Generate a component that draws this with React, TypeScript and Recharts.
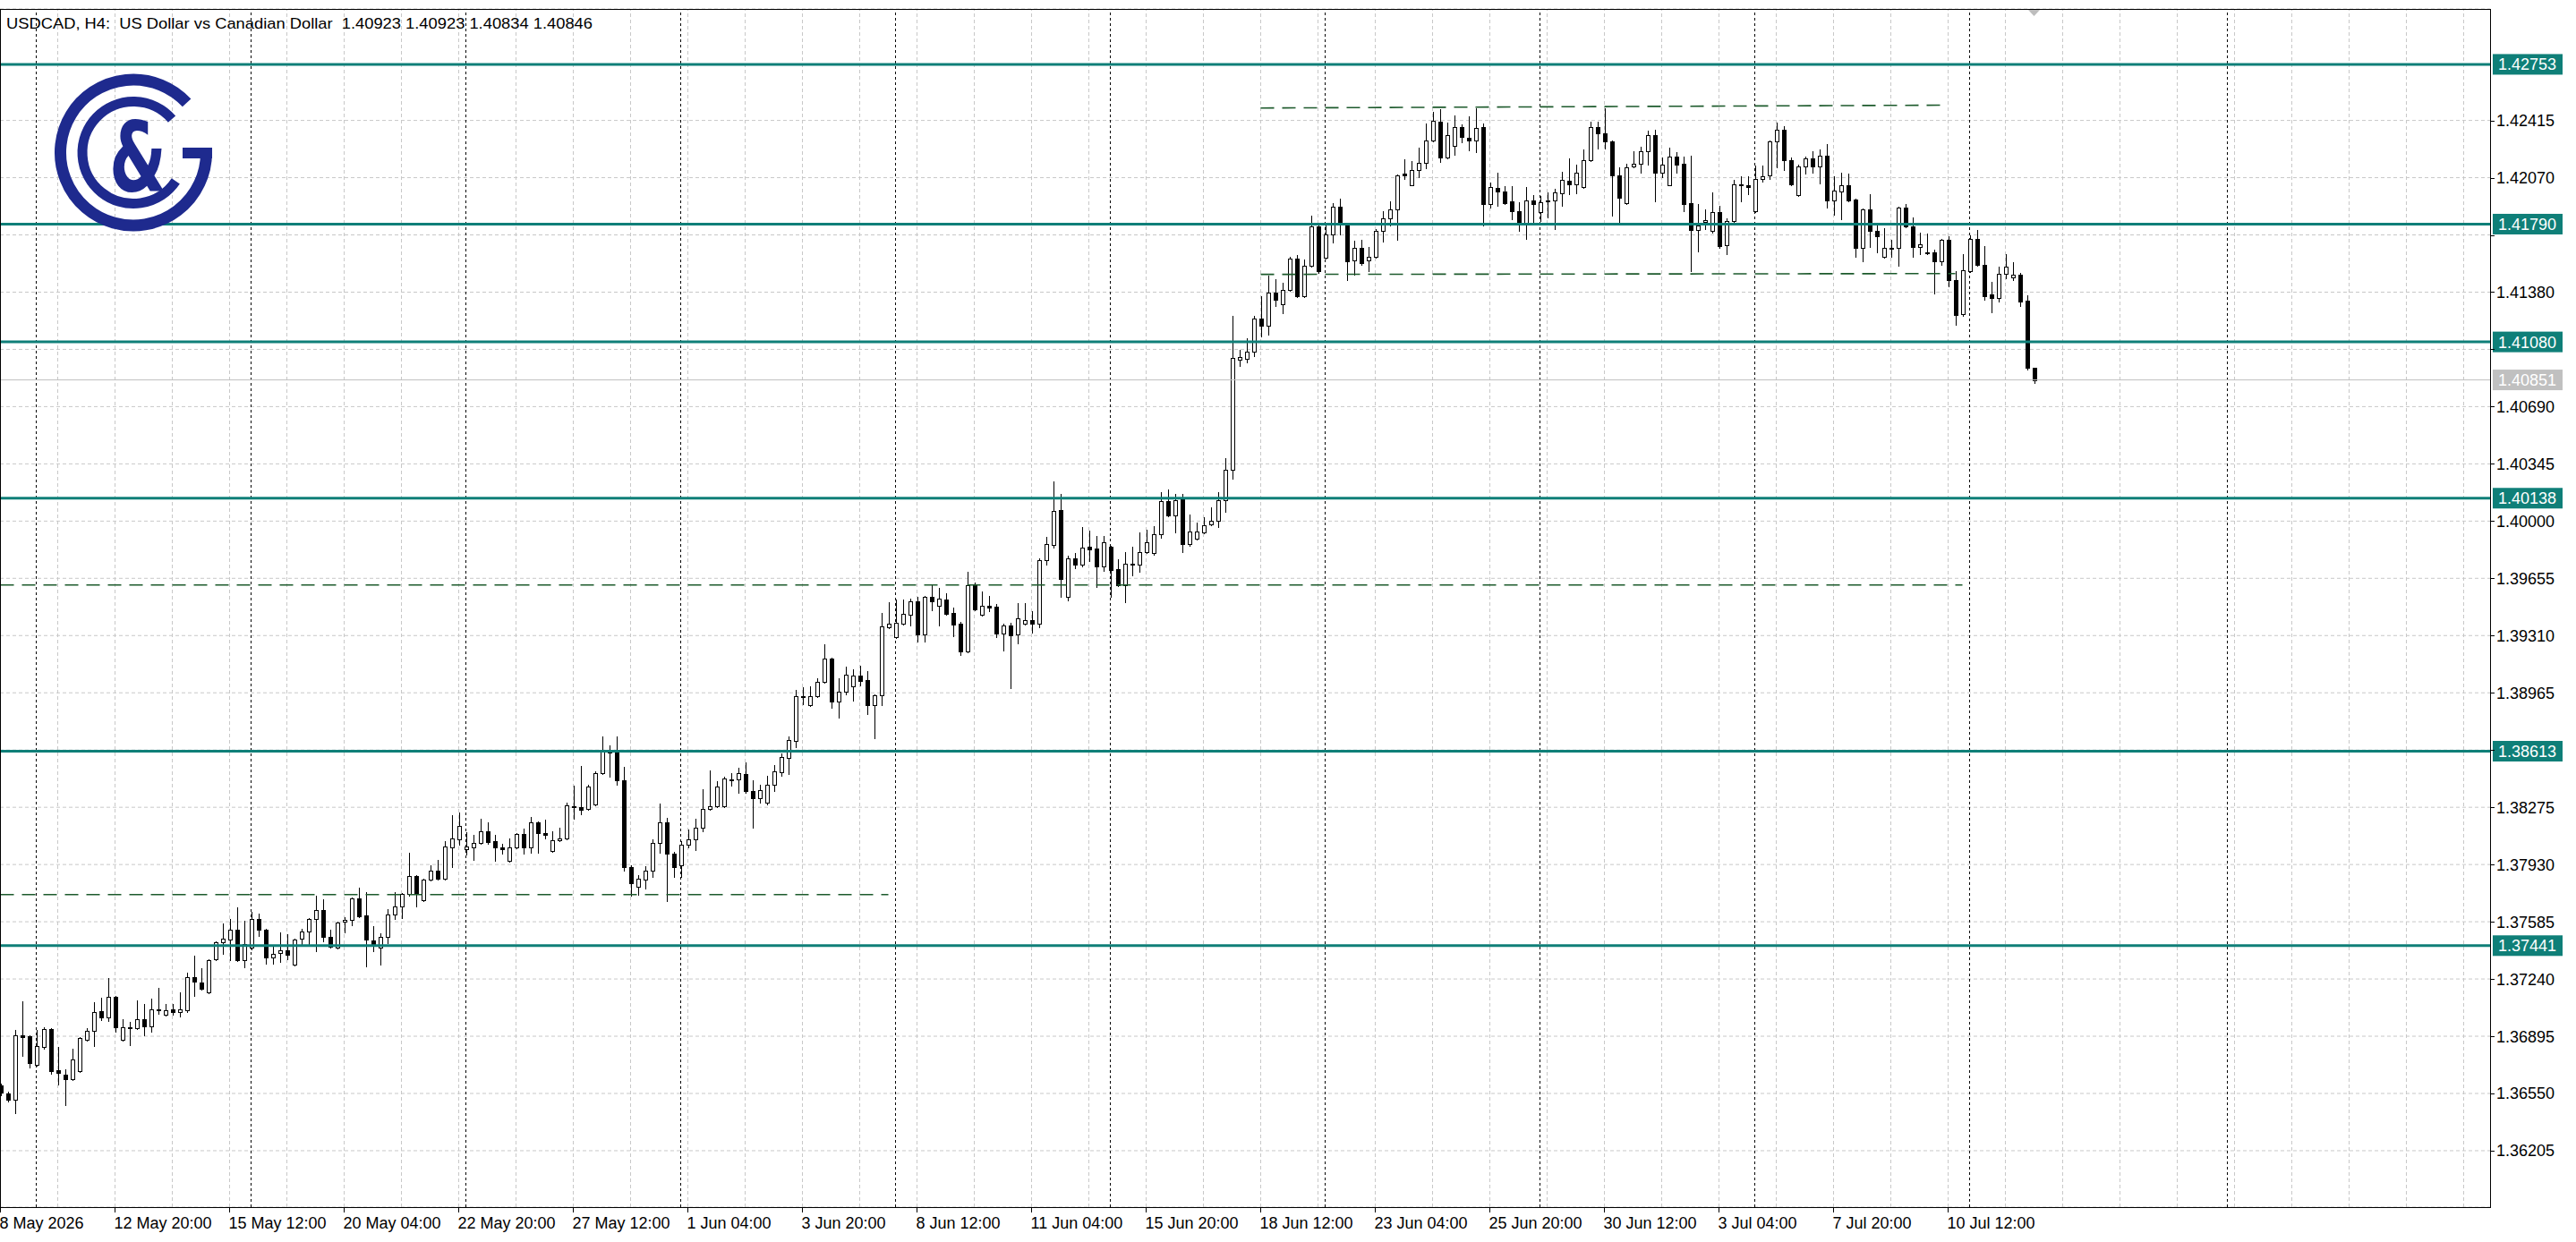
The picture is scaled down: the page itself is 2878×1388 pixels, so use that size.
import React from 'react';
import { ComposedChart, Bar, XAxis, YAxis, CartesianGrid, ReferenceLine } from 'recharts';

// USDCAD H4 candles, 8 May 2026 04:00 .. 14 Jul 2026 12:00
const opens = [
  1.36600, 1.36551, 1.36514, 1.36902, 1.36896, 1.36724, 1.36832, 1.36940, 1.36692, 1.36665,
  1.36638, 1.36686, 1.36875, 1.36929, 1.37048, 1.37010, 1.37134, 1.36875, 1.36946, 1.36945,
  1.36999, 1.36956, 1.37059, 1.37026, 1.37059, 1.37042, 1.37053, 1.37253, 1.37220, 1.37161,
  1.37361, 1.37463, 1.37479, 1.37539, 1.37355, 1.37431, 1.37604, 1.37539, 1.37372, 1.37399,
  1.37415, 1.37329, 1.37485, 1.37528, 1.37604, 1.37658, 1.37496, 1.37431, 1.37588, 1.37599,
  1.37728, 1.37626, 1.37474, 1.37431, 1.37496, 1.37631, 1.37679, 1.37754, 1.37862, 1.37717,
  1.37840, 1.37894, 1.37846, 1.38035, 1.38083, 1.38024, 1.38035, 1.38062, 1.38132, 1.38072,
  1.38035, 1.37954, 1.38035, 1.38116, 1.38035, 1.38186, 1.38121, 1.38013, 1.38078, 1.38089,
  1.38283, 1.38277, 1.38267, 1.38294, 1.38483, 1.38612, 1.38612, 1.38440, 1.37916, 1.37798,
  1.37840, 1.37894, 1.38062, 1.38186, 1.37997, 1.37927, 1.38051, 1.38083, 1.38153, 1.38267,
  1.38283, 1.38283, 1.38445, 1.38445, 1.38477, 1.38375, 1.38332, 1.38305, 1.38413, 1.38488,
  1.38574, 1.38677, 1.38947, 1.38893, 1.38947, 1.39033, 1.39173, 1.38914, 1.38974, 1.39006,
  1.39071, 1.39044, 1.38893, 1.38952, 1.39362, 1.39302, 1.39384, 1.39437, 1.39518, 1.39319,
  1.39545, 1.39491, 1.39529, 1.39448, 1.39384, 1.39216, 1.39615, 1.39437, 1.39491, 1.39486,
  1.39324, 1.39373, 1.39319, 1.39384, 1.39405, 1.39384, 1.39766, 1.39858, 1.40069, 1.39545,
  1.39777, 1.39739, 1.39847, 1.39836, 1.39728, 1.39847, 1.39712, 1.39615, 1.39740, 1.39739,
  1.39815, 1.39809, 1.39923, 1.40123, 1.40036, 1.40139, 1.39863, 1.39896, 1.39934, 1.39982,
  1.40004, 1.40128, 1.40311, 1.40975, 1.40980, 1.41023, 1.41223, 1.41180, 1.41379, 1.41309,
  1.41395, 1.41584, 1.41358, 1.41541, 1.41778, 1.41589, 1.41730, 1.41897, 1.41789, 1.41573,
  1.41649, 1.41573, 1.41595, 1.41752, 1.41827, 1.41881, 1.42096, 1.42027, 1.42118, 1.42161,
  1.42296, 1.42410, 1.42194, 1.42264, 1.42377, 1.42312, 1.42296, 1.42377, 1.41913, 1.42010,
  1.41989, 1.41929, 1.41870, 1.41789, 1.41935, 1.41865, 1.41935, 1.41935, 1.41978, 1.42054,
  1.42032, 1.42016, 1.42178, 1.42377, 1.42339, 1.42291, 1.42086, 1.41919, 1.42140, 1.42156,
  1.42231, 1.42329, 1.42102, 1.42027, 1.42199, 1.42156, 1.41919, 1.41757, 1.41805, 1.41751,
  1.41865, 1.41665, 1.41811, 1.42032, 1.42027, 1.41870, 1.42064, 1.42086, 1.42291, 1.42361,
  1.42178, 1.41967, 1.42140, 1.42188, 1.42140, 1.42204, 1.41935, 1.41989, 1.42027, 1.41940,
  1.41649, 1.41881, 1.41751, 1.41595, 1.41644, 1.41649, 1.41892, 1.41778, 1.41654, 1.41622,
  1.41622, 1.41568, 1.41697, 1.41455, 1.41250, 1.41509, 1.41703, 1.41546, 1.41369, 1.41347,
  1.41493, 1.41471, 1.41487, 1.41331, 1.40923,
];

const highs = [
  1.36611, 1.36562, 1.36934, 1.37107, 1.36902, 1.36934, 1.36951, 1.36945, 1.36832, 1.36697,
  1.36821, 1.36891, 1.36945, 1.37102, 1.37129, 1.37247, 1.37140, 1.36999, 1.36983, 1.37113,
  1.37091, 1.37123, 1.37188, 1.37091, 1.37091, 1.37161, 1.37280, 1.37382, 1.37307, 1.37360,
  1.37469, 1.37577, 1.37604, 1.37674, 1.37593, 1.37647, 1.37636, 1.37545, 1.37442, 1.37523,
  1.37512, 1.37485, 1.37545, 1.37609, 1.37744, 1.37722, 1.37539, 1.37588, 1.37615, 1.37733,
  1.37792, 1.37765, 1.37561, 1.37517, 1.37663, 1.37765, 1.37760, 1.38002, 1.37867, 1.37846,
  1.37927, 1.37959, 1.38072, 1.38229, 1.38245, 1.38127, 1.38110, 1.38208, 1.38186, 1.38110,
  1.38056, 1.38089, 1.38121, 1.38148, 1.38218, 1.38191, 1.38202, 1.38132, 1.38153, 1.38304,
  1.38407, 1.38526, 1.38412, 1.38494, 1.38704, 1.38650, 1.38704, 1.38520, 1.37927, 1.37868,
  1.37922, 1.38083, 1.38299, 1.38213, 1.38008, 1.38072, 1.38143, 1.38208, 1.38386, 1.38499,
  1.38434, 1.38461, 1.38483, 1.38515, 1.38547, 1.38440, 1.38413, 1.38466, 1.38531, 1.38601,
  1.38704, 1.38984, 1.39000, 1.39005, 1.39055, 1.39259, 1.39179, 1.39055, 1.39125, 1.39109,
  1.39130, 1.39098, 1.38958, 1.39448, 1.39513, 1.39529, 1.39529, 1.39535, 1.39545, 1.39550,
  1.39615, 1.39599, 1.39567, 1.39480, 1.39394, 1.39696, 1.39631, 1.39578, 1.39551, 1.39502,
  1.39384, 1.39389, 1.39508, 1.39508, 1.39459, 1.39777, 1.39907, 1.40241, 1.40166, 1.39793,
  1.39809, 1.39966, 1.39944, 1.39912, 1.39912, 1.39853, 1.39772, 1.39815, 1.39847, 1.39934,
  1.39950, 1.39971, 1.40176, 1.40193, 1.40166, 1.40166, 1.40041, 1.39993, 1.40022, 1.40085,
  1.40176, 1.40381, 1.41239, 1.41034, 1.41104, 1.41239, 1.41358, 1.41482, 1.41460, 1.41439,
  1.41595, 1.41606, 1.41579, 1.41843, 1.41789, 1.41789, 1.41919, 1.41946, 1.41795, 1.41692,
  1.41698, 1.41654, 1.41762, 1.41870, 1.41929, 1.42091, 1.42183, 1.42172, 1.42253, 1.42399,
  1.42469, 1.42485, 1.42404, 1.42447, 1.42393, 1.42442, 1.42490, 1.42399, 1.42043, 1.42102,
  1.42021, 1.42021, 1.41924, 1.42016, 1.41967, 1.41962, 1.41983, 1.42005, 1.42107, 1.42188,
  1.42150, 1.42242, 1.42409, 1.42409, 1.42490, 1.42296, 1.42134, 1.42156, 1.42231, 1.42258,
  1.42356, 1.42361, 1.42194, 1.42253, 1.42226, 1.42199, 1.42204, 1.41913, 1.41881, 1.41983,
  1.41902, 1.41827, 1.42059, 1.42081, 1.42081, 1.42145, 1.42145, 1.42296, 1.42404, 1.42383,
  1.42194, 1.42150, 1.42199, 1.42231, 1.42242, 1.42275, 1.42081, 1.42102, 1.42097, 1.41946,
  1.41886, 1.41973, 1.41795, 1.41768, 1.41697, 1.41897, 1.41913, 1.41832, 1.41741, 1.41735,
  1.41638, 1.41703, 1.41719, 1.41509, 1.41611, 1.41724, 1.41757, 1.41660, 1.41444, 1.41536,
  1.41611, 1.41563, 1.41498, 1.41363, 1.40923,
];

const lows = [
  1.36541, 1.36503, 1.36433, 1.36778, 1.36708, 1.36719, 1.36821, 1.36670, 1.36605, 1.36481,
  1.36632, 1.36680, 1.36869, 1.36837, 1.36994, 1.36988, 1.36923, 1.36870, 1.36843, 1.36940,
  1.36902, 1.36923, 1.37032, 1.37021, 1.37026, 1.37016, 1.37042, 1.37140, 1.37177, 1.37156,
  1.37355, 1.37393, 1.37355, 1.37350, 1.37312, 1.37420, 1.37501, 1.37334, 1.37334, 1.37345,
  1.37361, 1.37323, 1.37452, 1.37452, 1.37409, 1.37469, 1.37431, 1.37425, 1.37523, 1.37566,
  1.37615, 1.37318, 1.37409, 1.37329, 1.37458, 1.37604, 1.37609, 1.37744, 1.37679, 1.37712,
  1.37835, 1.37840, 1.37840, 1.37916, 1.38051, 1.37992, 1.37959, 1.38056, 1.38056, 1.37954,
  1.37997, 1.37949, 1.38030, 1.37997, 1.38002, 1.38002, 1.38089, 1.38008, 1.38072, 1.38083,
  1.38208, 1.38234, 1.38261, 1.38288, 1.38478, 1.38461, 1.38413, 1.37895, 1.37744, 1.37749,
  1.37787, 1.37857, 1.38002, 1.37712, 1.37857, 1.37857, 1.38035, 1.38019, 1.38132, 1.38261,
  1.38277, 1.38277, 1.38407, 1.38364, 1.38364, 1.38153, 1.38305, 1.38294, 1.38375, 1.38466,
  1.38477, 1.38639, 1.38898, 1.38888, 1.38941, 1.39028, 1.38876, 1.38817, 1.38958, 1.38919,
  1.39011, 1.38839, 1.38689, 1.38893, 1.39357, 1.39297, 1.39378, 1.39373, 1.39276, 1.39276,
  1.39464, 1.39373, 1.39437, 1.39308, 1.39195, 1.39211, 1.39464, 1.39432, 1.39459, 1.39302,
  1.39222, 1.38995, 1.39265, 1.39378, 1.39330, 1.39362, 1.39739, 1.39842, 1.39545, 1.39524,
  1.39718, 1.39728, 1.39761, 1.39604, 1.39702, 1.39545, 1.39610, 1.39513, 1.39675, 1.39696,
  1.39809, 1.39799, 1.39901, 1.40031, 1.39934, 1.39815, 1.39853, 1.39890, 1.39928, 1.39977,
  1.39966, 1.40058, 1.40257, 1.40937, 1.40959, 1.40996, 1.41115, 1.41126, 1.41298, 1.41255,
  1.41390, 1.41352, 1.41352, 1.41536, 1.41498, 1.41584, 1.41681, 1.41730, 1.41455, 1.41487,
  1.41546, 1.41509, 1.41589, 1.41687, 1.41784, 1.41697, 1.42064, 1.42022, 1.42075, 1.42129,
  1.42291, 1.42167, 1.42188, 1.42210, 1.42285, 1.42237, 1.42226, 1.41784, 1.41892, 1.41902,
  1.41913, 1.41822, 1.41751, 1.41703, 1.41805, 1.41811, 1.41832, 1.41762, 1.41902, 1.41973,
  1.41978, 1.42010, 1.42172, 1.42248, 1.42248, 1.41843, 1.41805, 1.41913, 1.42134, 1.42102,
  1.42150, 1.41929, 1.42075, 1.42022, 1.42102, 1.41870, 1.41509, 1.41627, 1.41762, 1.41741,
  1.41649, 1.41611, 1.41805, 1.41929, 1.41973, 1.41865, 1.42048, 1.42064, 1.42134, 1.42118,
  1.42027, 1.41962, 1.42097, 1.42102, 1.42037, 1.41892, 1.41849, 1.41822, 1.41929, 1.41595,
  1.41568, 1.41654, 1.41622, 1.41589, 1.41595, 1.41541, 1.41773, 1.41595, 1.41611, 1.41611,
  1.41374, 1.41546, 1.41417, 1.41185, 1.41239, 1.41503, 1.41541, 1.41336, 1.41261, 1.41325,
  1.41466, 1.41455, 1.41298, 1.40915, 1.40834,
];

const closes = [
  1.36557, 1.36514, 1.36902, 1.36891, 1.36735, 1.36837, 1.36940, 1.36686, 1.36676, 1.36638,
  1.36757, 1.36886, 1.36929, 1.37042, 1.37010, 1.37134, 1.36951, 1.36951, 1.36951, 1.36999,
  1.36956, 1.37059, 1.37053, 1.37053, 1.37042, 1.37059, 1.37253, 1.37226, 1.37183, 1.37355,
  1.37463, 1.37485, 1.37539, 1.37355, 1.37452, 1.37604, 1.37539, 1.37372, 1.37393, 1.37415,
  1.37388, 1.37479, 1.37528, 1.37604, 1.37658, 1.37496, 1.37436, 1.37582, 1.37599, 1.37728,
  1.37620, 1.37479, 1.37452, 1.37496, 1.37631, 1.37679, 1.37754, 1.37862, 1.37760, 1.37840,
  1.37894, 1.37846, 1.38040, 1.38089, 1.38164, 1.38040, 1.38062, 1.38132, 1.38067, 1.38035,
  1.38024, 1.38035, 1.38116, 1.38035, 1.38186, 1.38121, 1.38110, 1.38078, 1.38089, 1.38288,
  1.38277, 1.38261, 1.38402, 1.38483, 1.38612, 1.38607, 1.38440, 1.37916, 1.37819, 1.37846,
  1.37894, 1.38062, 1.38186, 1.37997, 1.37916, 1.38051, 1.38083, 1.38153, 1.38267, 1.38283,
  1.38402, 1.38450, 1.38440, 1.38483, 1.38375, 1.38332, 1.38380, 1.38413, 1.38494, 1.38580,
  1.38682, 1.38947, 1.38941, 1.38947, 1.39033, 1.39173, 1.38914, 1.38974, 1.39076, 1.39071,
  1.39038, 1.38893, 1.38952, 1.39367, 1.39384, 1.39389, 1.39443, 1.39518, 1.39319, 1.39545,
  1.39518, 1.39535, 1.39443, 1.39378, 1.39216, 1.39615, 1.39470, 1.39491, 1.39480, 1.39324,
  1.39373, 1.39313, 1.39416, 1.39405, 1.39384, 1.39766, 1.39863, 1.40063, 1.39653, 1.39777,
  1.39739, 1.39842, 1.39831, 1.39728, 1.39874, 1.39707, 1.39615, 1.39745, 1.39745, 1.39815,
  1.39874, 1.39923, 1.40123, 1.40036, 1.40128, 1.39863, 1.39939, 1.39939, 1.39977, 1.40004,
  1.40128, 1.40311, 1.40985, 1.40990, 1.41023, 1.41223, 1.41180, 1.41379, 1.41336, 1.41395,
  1.41584, 1.41358, 1.41541, 1.41778, 1.41509, 1.41730, 1.41897, 1.41800, 1.41568, 1.41649,
  1.41557, 1.41595, 1.41752, 1.41827, 1.41881, 1.42086, 1.42086, 1.42118, 1.42161, 1.42296,
  1.42415, 1.42194, 1.42329, 1.42377, 1.42318, 1.42296, 1.42372, 1.41913, 1.42016, 1.41989,
  1.41919, 1.41870, 1.41795, 1.41935, 1.41913, 1.41924, 1.41929, 1.41983, 1.42059, 1.42032,
  1.42102, 1.42178, 1.42377, 1.42339, 1.42291, 1.42086, 1.41951, 1.42134, 1.42156, 1.42231,
  1.42329, 1.42102, 1.42150, 1.42199, 1.42150, 1.41913, 1.41757, 1.41784, 1.41816, 1.41865,
  1.41660, 1.41811, 1.42032, 1.42027, 1.42016, 1.42064, 1.42081, 1.42291, 1.42361, 1.42178,
  1.42032, 1.42140, 1.42188, 1.42140, 1.42204, 1.41935, 1.41994, 1.42027, 1.41935, 1.41649,
  1.41881, 1.41751, 1.41719, 1.41649, 1.41649, 1.41892, 1.41778, 1.41654, 1.41670, 1.41617,
  1.41568, 1.41697, 1.41455, 1.41245, 1.41514, 1.41703, 1.41546, 1.41358, 1.41347, 1.41493,
  1.41536, 1.41487, 1.41325, 1.40926, 1.40846,
];

// one label every 16 bars, starting with the first bar
const timeLabels = [
  '8 May 2026', '12 May 20:00', '15 May 12:00', '20 May 04:00', '22 May 20:00', '27 May 12:00',
  '1 Jun 04:00', '3 Jun 20:00', '8 Jun 12:00', '11 Jun 04:00', '15 Jun 20:00', '18 Jun 12:00',
  '23 Jun 04:00', '25 Jun 20:00', '30 Jun 12:00', '3 Jul 04:00', '7 Jul 20:00', '10 Jul 12:00',
];

const priceTicks = [
  1.36205, 1.3655, 1.36895, 1.3724, 1.37585, 1.3793, 1.38275, 1.3862, 1.38965, 1.3931,
  1.39655, 1.4, 1.40345, 1.4069, 1.41035, 1.4138, 1.41725, 1.4207, 1.42415,
];
// tick labels hidden behind the level tags
const coveredTicks = [1.3862, 1.41035, 1.41725];

const levels = [1.42753, 1.4179, 1.4108, 1.40138, 1.38613, 1.37441];
const bidPrice = 1.40851;
const headerText = 'USDCAD, H4:  US Dollar vs Canadian Dollar  1.40923 1.40923 1.40834 1.40846';

// bar indices of the weekly separators (Monday 00:00)
const weekStarts = [5, 35, 65, 95, 125, 155, 185, 215, 245, 275, 311];

// dashed support / resistance lines drawn on the chart
const trendLines = [
  { x1: 0, p1: 1.37749, x2: 124, p2: 1.37749 },
  { x1: 0, p1: 1.39615, x2: 274, p2: 1.39615 },
  { x1: 176, p1: 1.4249, x2: 271, p2: 1.42507 },
  { x1: 176, p1: 1.41487, x2: 273, p2: 1.41492 },
];

const SLOTS = 348;
const BAR_COUNT = Math.min(opens.length, highs.length, lows.length, closes.length);
const gridIdx = Array.from({ length: 43 }, (_, k) => (k + 1) * 8);

const data = Array.from({ length: SLOTS }, (_, i) =>
  i < BAR_COUNT
    ? { idx: i, o: opens[i], h: highs[i], l: lows[i], c: closes[i], range: [lows[i], highs[i]] }
    : { idx: i, range: null }
);

const TEAL = '#0f7f78';
const TREND = '#1d5a2c';
const LOGO = '#1e2a8e';
const FONT = '"Liberation Sans", Arial, sans-serif';

const Candle = (props: any) => {
  const { x, y, width, height, payload } = props;
  if (!payload || payload.o == null || !isFinite(y) || !isFinite(height)) return <g />;
  const { o, h, l, c } = payload;
  const top = Math.min(y, y + height);
  const bottom = Math.max(y, y + height);
  const k = (bottom - top) / (h - l);
  const py = (p: number) => Math.round(top + (h - p) * k);
  const cx = Math.round(x + width / 2 - 0.5) + 0.5;
  const yH = py(h);
  const yL = py(l);
  const bt = Math.min(py(o), py(c));
  const bb = Math.max(py(o), py(c));
  const bull = c >= o;
  return (
    <g>
      <line x1={cx} x2={cx} y1={yH} y2={yL + 1} stroke="#000" strokeWidth={1} />
      {bb - bt < 1 ? (
        <line x1={cx - 2.5} x2={cx + 2.5} y1={bt + 0.5} y2={bt + 0.5} stroke="#000" strokeWidth={1} />
      ) : (
        <rect x={cx - 2} y={bt + 0.5} width={4} height={bb - bt} fill={bull ? '#fff' : '#000'} stroke="#000" strokeWidth={1} />
      )}
    </g>
  );
};

const TimeTick = (props: any) => {
  const { x, y, payload } = props;
  const i = payload.value;
  const label = i % 16 === 0 ? timeLabels[i / 16] : undefined;
  if (!label) return <g />;
  const px = Math.round(x - 0.5) + 0.5;
  return (
    <g>
      <line x1={px} x2={px} y1={y} y2={y + 6} stroke="#000" strokeWidth={1} />
      <text x={px - 1} y={y + 24} fontSize={18} fontFamily={FONT} fill="#000">{label}</text>
    </g>
  );
};

const PriceTick = (props: any) => {
  const { x, y, payload } = props;
  const v = payload.value;
  const ly = Math.round(y) + 0.5;
  return (
    <g>
      <line x1={x} x2={x + 5} y1={ly} y2={ly} stroke="#000" strokeWidth={1} />
      {coveredTicks.includes(v) ? null : (
        <text x={x + 7} y={y + 6.5} fontSize={18} fontFamily={FONT} fill="#000">{v.toFixed(5)}</text>
      )}
    </g>
  );
};

const PriceTag = (props: any) => {
  const { viewBox, value, fill } = props;
  if (!viewBox) return null;
  const x = viewBox.x + viewBox.width;
  const y = viewBox.y;
  return (
    <g>
      <rect x={x + 3} y={y - 11.5} width={78} height={23} fill={fill} />
      <text x={x + 9} y={y + 6.5} fontSize={18} fontFamily={FONT} fill="#fff">{value}</text>
    </g>
  );
};

export default function App() {
  return (
    <div style={{ position: 'fixed', left: 0, top: 0, width: 2878, height: 1388, background: '#fff' }}>
      <ComposedChart width={2878} height={1388} data={data} margin={{ top: 10, right: 0, bottom: 0, left: 0 }}>
        <CartesianGrid vertical={false} stroke="#c8c8c8" strokeDasharray="4 3" />
        <XAxis
          dataKey="idx"
          type="category"
          interval={15}
          height={39}
          tickSize={0}
          tickMargin={0}
          axisLine={false}
          tickLine={false}
          padding={{ left: -3.5, right: 1.5 }}
          tick={(p: any) => <TimeTick {...p} />}
        />
        <YAxis
          orientation="right"
          type="number"
          domain={[1.35865, 1.43087]}
          allowDataOverflow
          ticks={priceTicks}
          interval={0}
          width={96}
          tickSize={0}
          tickMargin={0}
          axisLine={false}
          tickLine={false}
          tick={(p: any) => <PriceTick {...p} />}
        />
        {gridIdx.map((i) => (
          <ReferenceLine key={`g${i}`} x={i} stroke="#c8c8c8" strokeDasharray="4 3" zIndex={-50} />
        ))}
        {weekStarts.map((i) => (
          <ReferenceLine key={`w${i}`} x={i} stroke="#000" strokeDasharray="3 3" zIndex={-40} />
        ))}
        <Bar dataKey="range" barSize={5} shape={(p: any) => <Candle {...p} />} isAnimationActive={false} />
        <ReferenceLine
          y={bidPrice}
          stroke="#c0c0c0"
          strokeWidth={1}
          zIndex={600}
          label={<PriceTag value={bidPrice.toFixed(5)} fill="#c0c0c0" />}
        />
        {levels.map((lv) => (
          <ReferenceLine
            key={`lv${lv}`}
            y={lv}
            stroke={TEAL}
            strokeWidth={3}
            zIndex={600}
            label={<PriceTag value={lv.toFixed(5)} fill={TEAL} />}
          />
        ))}
        {trendLines.map((t, k) => (
          <ReferenceLine
            key={`t${k}`}
            segment={[{ x: t.x1, y: t.p1 }, { x: t.x2, y: t.p2 }]}
            stroke={TREND}
            strokeWidth={1.6}
            strokeDasharray="15 9"
            zIndex={600}
          />
        ))}
      </ComposedChart>
      <svg
        width={2878}
        height={1388}
        style={{ position: 'absolute', left: 0, top: 0, pointerEvents: 'none' }}
      >
        <rect x={0.5} y={10.5} width={2782} height={1339} fill="none" stroke="#000" strokeWidth={1} />
        <text
          x={7}
          y={32}
          fontSize={17}
          fontFamily={FONT}
          fill="#000"
          textLength={655}
          lengthAdjust="spacingAndGlyphs"
          style={{ whiteSpace: 'pre' }}
        >
          {headerText}
        </text>
        <polygon points="2266,11 2279,11 2272.5,18" fill="#bdbdbd" />
        <g fill="none" stroke={LOGO}>
          <path d="M 208.6 114.9 A 81.5 81.5 0 1 0 230.5 170.5" strokeWidth={13} />
          <path d="M 192 133.1 A 57 57 0 1 0 196.3 202.4" strokeWidth={11} />
        </g>
        <rect x={204} y={165} width={33} height={12} fill={LOGO} />
        <text
          x={122}
          y={213}
          fontSize={108}
          fontWeight="bold"
          fontFamily='"DejaVu Sans", sans-serif'
          fill={LOGO}
          textLength={64}
          lengthAdjust="spacingAndGlyphs"
        >
          &amp;
        </text>
      </svg>
    </div>
  );
}
